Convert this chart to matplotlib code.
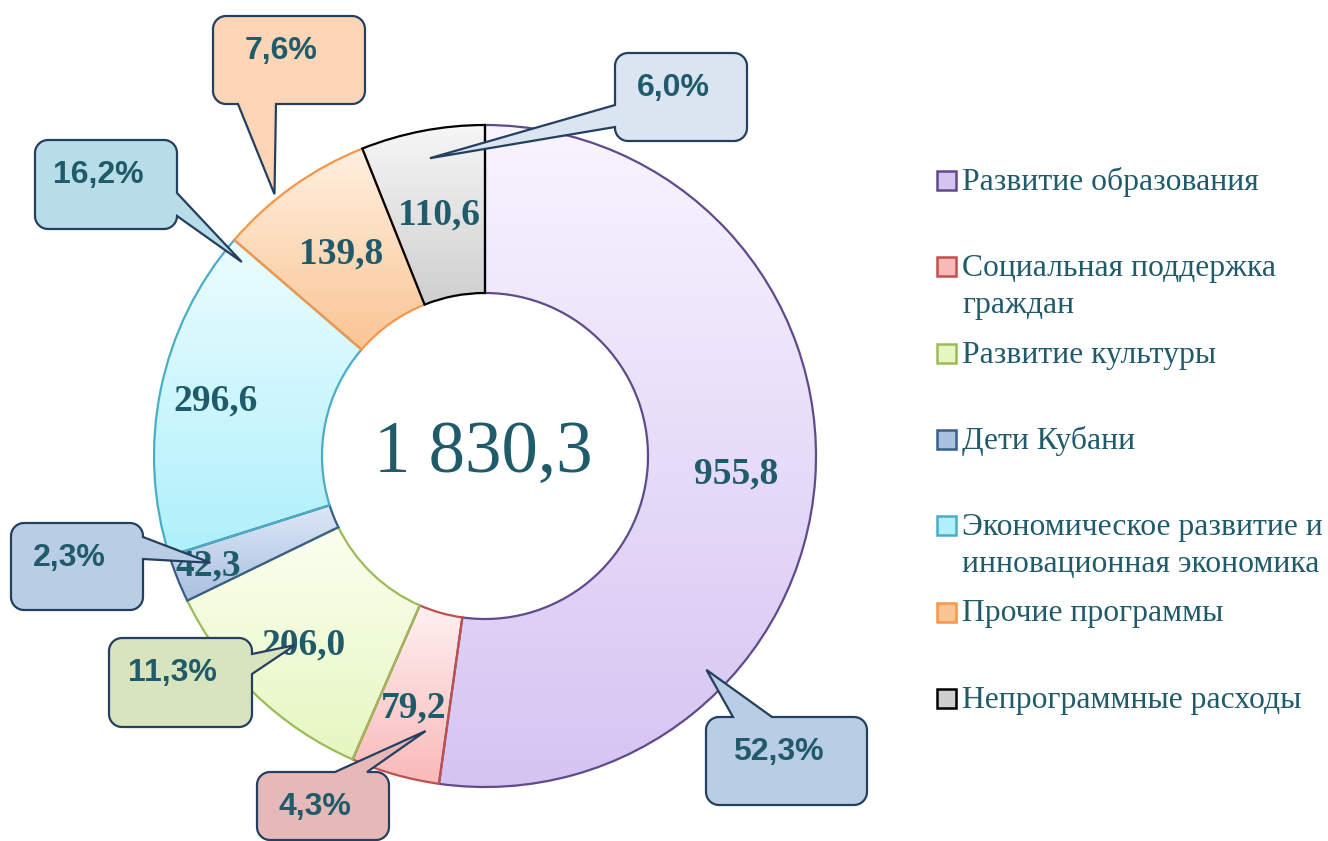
"""
Кольцевая диаграмма расходов по программам (млн руб.)
"""

import matplotlib.pyplot as plt
import numpy as np
from matplotlib.colors import to_rgb
from matplotlib.patches import Polygon, Rectangle


# Данные
categories = [
    "Развитие образования",
    "Социальная поддержка\nграждан",
    "Развитие культуры",
    "Дети Кубани",
    "Экономическое развитие и\nинновационная экономика",
    "Прочие программы",
    "Непрограммные расходы",
]
values = [955.8, 79.2, 206.0, 42.3, 296.6, 139.8, 110.6]
shares = [52.3, 4.3, 11.3, 2.3, 16.2, 7.6, 6.0]

# Оформление
light_colors = ["#f9f4ff", "#fff0f0", "#fbfff0", "#dde8f5", "#ecfdff", "#fff0e0", "#f6f6f6"]
dark_colors = ["#d5c4f2", "#f9b9b9", "#e6f7c0", "#a9c0e0", "#aef0fb", "#fac594", "#cfcfcf"]
edge_colors = ["#5f4b8b", "#c0504d", "#9bbb59", "#385d8a", "#4bacc6", "#f79646", "#000000"]
box_colors = ["#b9cde5", "#e6b9b8", "#d7e4bd", "#b9cde5", "#b7dde8", "#fbd5b5", "#dbe5f1"]
TEXT = "#1f5b6a"
NAVY = "#243f60"

W, H = 1328, 841
CX, CY = 485, 456          # центр кольца (пиксели от верхнего левого угла)
R_OUT, R_IN = 331, 163

# выноски: (x0, y0, x1, y1) рамки, две точки основания, (сдвиг угла, доля радиуса) острия
callouts = [
    ((706, 717, 867, 805), (733, 717), (772, 717), (-40, 0.93)),
    ((257, 772, 389, 840), (335, 772), (367, 772), (3.6, 0.85)),
    ((109, 638, 252, 727), (252, 654), (252, 674), (-1.3, 0.81)),
    ((11, 523, 143, 610), (143, 537), (143, 559), (-0.5, 0.89)),
    ((35, 140, 177, 229), (177, 193), (177, 216), (-27, 0.94)),
    ((213, 16, 365, 104), (238, 104), (276, 104), (3.3, 1.015)),
    ((615, 53, 747, 141), (615, 105), (615, 127), (-0.4, 0.915)),
]
label_radius = [0.76, 0.79, 0.79, 0.9, 0.83, 0.75, 0.74]


def fy(py):
    """pixel y (from top) -> data y"""
    return H - py


def fmt(v):
    return f"{v:,.1f}".replace(",", " ").replace(".", ",")


def arc(cx, cy, r, a0, a1):
    t = np.deg2rad(np.linspace(a0, a1, 12))
    return list(zip(cx + r * np.cos(t), cy + r * np.sin(t)))


def callout_points(x0, yb, x1, yt, r, b1, b2, tip):
    """rounded box outline (counterclockwise) with a pointer spliced into one side"""
    def side_of(p):
        if abs(p[0] - x1) < 1:
            return "right"
        if abs(p[0] - x0) < 1:
            return "left"
        if abs(p[1] - yt) < 1:
            return "top"
        return "bottom"

    side = side_of(b1)
    keys = {"right": lambda p: p[1], "top": lambda p: -p[0],
            "left": lambda p: -p[1], "bottom": lambda p: p[0]}
    a, b = sorted([b1, b2], key=keys[side])
    pointer = {s: ([a, tip, b] if s == side else []) for s in keys}

    pts = arc(x1 - r, yb + r, r, -90, 0) + pointer["right"]
    pts += arc(x1 - r, yt - r, r, 0, 90) + pointer["top"]
    pts += arc(x0 + r, yt - r, r, 90, 180) + pointer["left"]
    pts += arc(x0 + r, yb + r, r, 180, 270) + pointer["bottom"]
    return pts


fig = plt.figure(figsize=(W / 100, H / 100), dpi=100)
ax = fig.add_axes([0, 0, 1, 1])

wedges, _ = ax.pie(values, radius=R_OUT, center=(CX, fy(CY)), startangle=90,
                   counterclock=False,
                   wedgeprops=dict(width=R_OUT - R_IN, linewidth=1.6))

# градиентная заливка сегментов
for w, c1, c2, ec in zip(wedges, light_colors, dark_colors, edge_colors):
    w.set_facecolor("none")
    w.set_edgecolor(ec)
    w.set_zorder(3)
    ext = w.get_path().get_extents()
    t = np.linspace(0, 1, 200)[:, None, None]
    img = (1 - t) * np.array(to_rgb(c1)) + t * np.array(to_rgb(c2))
    im = ax.imshow(img, extent=(ext.x0, ext.x1, ext.y0, ext.y1), origin="upper",
                   aspect="auto", zorder=2, interpolation="bilinear")
    im.set_clip_path(w)

# подписи значений
for w, v, lr in zip(wedges, values, label_radius):
    mid = np.deg2rad((w.theta1 + w.theta2) / 2)
    ax.text(CX + lr * R_OUT * np.cos(mid), fy(CY) + lr * R_OUT * np.sin(mid), fmt(v),
            ha="center", va="center", fontsize=27, fontweight="bold",
            family="Liberation Serif", color=TEXT, zorder=6)

# итог в центре
ax.text(CX - 2, fy(CY - 2), fmt(sum(values)), ha="center", va="center",
        fontsize=52.5, family="Liberation Serif", color=TEXT, zorder=6)

# выноски с процентами
for w, s, bc, (box, b1, b2, (da, tr)) in zip(wedges, shares, box_colors, callouts):
    x0, y0, x1, y1 = box
    ang = np.deg2rad((w.theta1 + w.theta2) / 2 + da)
    tip = (CX + tr * R_OUT * np.cos(ang), fy(CY) + tr * R_OUT * np.sin(ang))
    pts = callout_points(x0, fy(y1), x1, fy(y0), 13,
                         (b1[0], fy(b1[1])), (b2[0], fy(b2[1])), tip)
    ax.add_patch(Polygon(pts, closed=True, facecolor=bc, edgecolor=NAVY,
                         linewidth=1.6, zorder=8, joinstyle="miter"))
    ax.text((x0 + x1) / 2 - 8, fy(y0 + 35), f"{s:.1f}%".replace(".", ","),
            ha="center", va="center", fontsize=23, fontweight="bold",
            family="Liberation Sans", color=TEXT, zorder=10)

# легенда
for i, (name, c2, ec) in enumerate(zip(categories, dark_colors, edge_colors)):
    base = 190 + 86.3 * i
    ax.add_patch(Rectangle((937, fy(base)), 19, 19, facecolor=c2, edgecolor=ec,
                           linewidth=1.8, zorder=5))
    for k, line in enumerate(name.split("\n")):
        ax.text(962, fy(base + 37 * k), line, ha="left", va="baseline", fontsize=22.8,
                family="Liberation Serif", color=TEXT)

ax.set_xlim(0, W)
ax.set_ylim(0, H)
ax.set_aspect("equal")
ax.axis("off")

fig.savefig("out.png", dpi=100)
